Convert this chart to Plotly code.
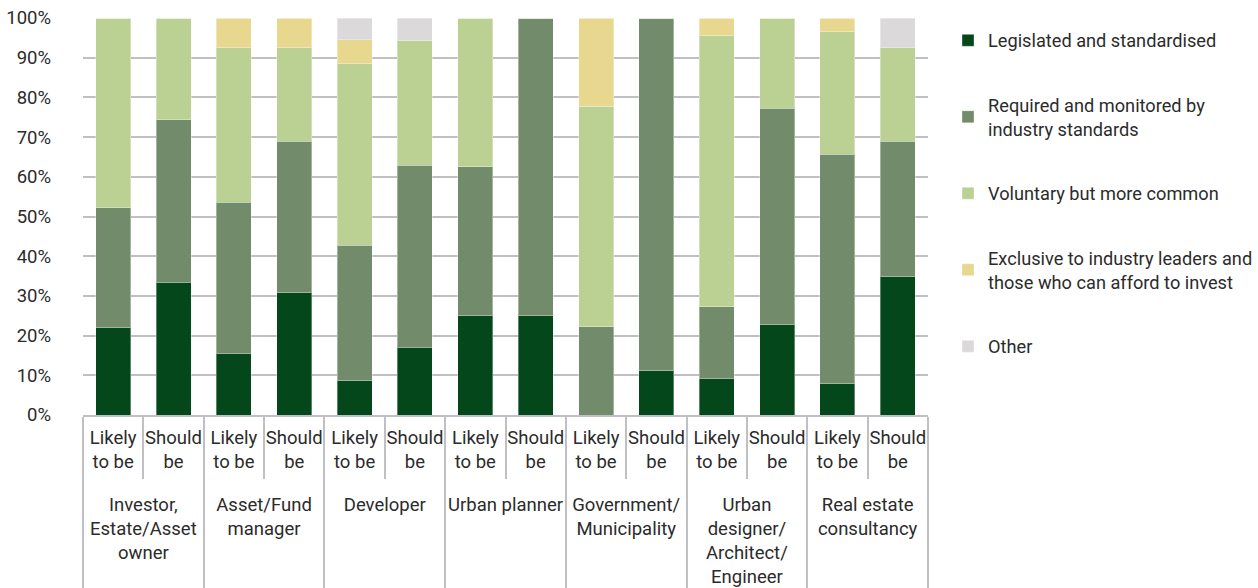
import plotly.graph_objects as go

# Respondent groups (outer axis level) and the two answer framings (inner level)
groups = [
    "Investor,<br>Estate/Asset<br>owner",
    "Asset/Fund<br>manager",
    "Developer",
    "Urban planner",
    "Government/<br>Municipality",
    "Urban<br>designer/<br>Architect/<br>Engineer",
    "Real estate<br>consultancy",
]
# trailing blank line leaves room between the two label rows
framings = ["Likely<br>to be<br> ", "Should<br>be<br> "]

# Share of responses (%) per bar, in group order, Likely/Should alternating
legislated = [22.0, 33.5, 15.4, 30.8, 8.6, 17.1, 25.0, 25.0, 0.0, 11.1, 9.1, 22.7, 7.9, 34.8]
required = [30.2, 40.9, 38.2, 38.2, 34.2, 45.8, 37.5, 75.0, 22.2, 88.9, 18.2, 54.6, 57.8, 34.2]
voluntary = [47.8, 25.6, 38.9, 23.5, 45.7, 31.4, 37.5, 0.0, 55.6, 0.0, 68.2, 22.7, 30.9, 23.5]
exclusive = [0.0, 0.0, 7.5, 7.5, 6.0, 0.0, 0.0, 0.0, 22.2, 0.0, 4.5, 0.0, 3.4, 0.0]
other = [0.0, 0.0, 0.0, 0.0, 5.5, 5.7, 0.0, 0.0, 0.0, 0.0, 0.0, 0.0, 0.0, 7.5]

y_ticks = [0, 10, 20, 30, 40, 50, 60, 70, 80, 90, 100]
y_labels = [f"{v}%" for v in y_ticks]

series = [
    ("Legislated and standardised", legislated, "#03471a"),
    ("Required and monitored by<br>industry standards", required, "#728c6b"),
    ("Voluntary but more common", voluntary, "#bbd193"),
    ("Exclusive to industry leaders and<br>those who can afford to invest", exclusive, "#e7d78f"),
    ("Other", other, "#dbd9da"),
]

outer = [g for g in groups for _ in framings]
inner = [f for _ in groups for f in framings]

FONT = "Roboto, Liberation Sans, sans-serif"
FS = 18.5
TXT = "#2b2b2b"
GRID = "#c0c0c4"

fig = go.Figure()
for i, (name, vals, color) in enumerate(series):
    fig.add_trace(go.Bar(
        x=[outer, inner],
        y=vals,
        name=name,
        marker=dict(color=color, line=dict(color="rgba(255,255,255,0.35)", width=1)),
        legendgroup=f"g{i}",
    ))

fig.update_layout(
    barmode="stack",
    bargap=0.42,
    width=1258,
    height=588,
    margin=dict(l=83, r=330, t=18, b=173, autoexpand=False),
    paper_bgcolor="white",
    plot_bgcolor="white",
    font=dict(family=FONT, size=FS, color=TXT),
    legend=dict(
        x=1.0237, xanchor="left",
        y=0.990, yanchor="top",
        tracegroupgap=38,
        maxheight=560,
        font=dict(family=FONT, size=18.2, color=TXT),
        itemclick=False,
    ),
    showlegend=True,
)

fig.update_yaxes(
    range=[0, 100],
    tickvals=y_ticks,
    ticktext=y_labels,
    showgrid=True,
    gridcolor=GRID,
    gridwidth=1.5,
    zeroline=False,
    showline=False,
    ticks="",
    ticklabelstandoff=31,
    tickfont=dict(family=FONT, size=FS, color=TXT),
)

fig.update_xaxes(
    type="multicategory",
    tickangle=0,
    showline=True,
    linecolor=GRID,
    linewidth=1.5,
    ticks="outside",
    tickson="boundaries",
    ticklen=62,
    tickcolor=GRID,
    tickwidth=1.5,
    ticklabelstandoff=5,
    showdividers=True,
    dividercolor=GRID,
    dividerwidth=1.5,
    tickfont=dict(family=FONT, size=FS, color=TXT),
)

fig.write_html("out.html")
